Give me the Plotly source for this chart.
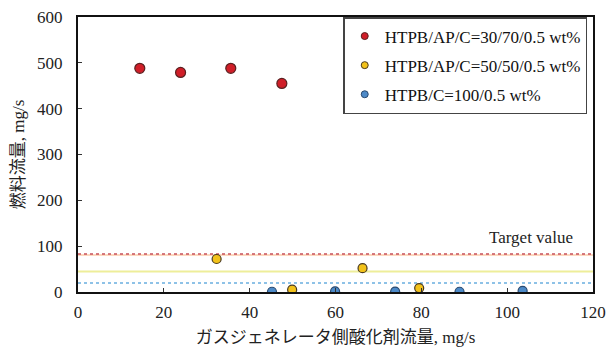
import plotly.graph_objects as go

# Fuel mass flow vs. gas-generator oxidizer flow
x_ap70 = [14.4, 23.9, 35.6, 47.5]
y_ap70 = [488, 479, 488, 455]

x_ap50 = [32.3, 49.9, 66.3, 79.5]
y_ap50 = [72, 5, 52, 8.5]

x_c100 = [45.2, 59.9, 73.9, 88.9, 103.6]
y_c100 = [0.5, 1.5, 1.0, 0.5, 2.5]

# Target fuel flow for each composition
target_ap70 = 83
target_ap50 = 45
target_c100 = 19.5

x_ticks = [0, 20, 40, 60, 80, 100, 120]
y_ticks = [0, 100, 200, 300, 400, 500, 600]

names = ["HTPB/AP/C=30/70/0.5 wt%", "HTPB/AP/C=50/50/0.5 wt%", "HTPB/C=100/0.5 wt%"]
fills = ["#d01e28", "#f2c21a", "#4d8ac8"]
edges = ["#5a2020", "#4a3a20", "#2a4a70"]

SERIF = "Liberation Serif, Noto Sans CJK JP"

fig = go.Figure()

# target lines (drawn first so markers sit above)
fig.add_trace(go.Scatter(x=[0, 120], y=[target_ap70 - 2.5] * 2, mode="lines",
                         line=dict(color="rgba(250,190,150,0.6)", width=2),
                         showlegend=False, hoverinfo="skip"))
fig.add_trace(go.Scatter(x=[0, 120], y=[target_ap70] * 2, mode="lines",
                         line=dict(color="#c8505a", width=1.5, dash="dot"),
                         showlegend=False, hoverinfo="skip"))
fig.add_trace(go.Scatter(x=[0, 120], y=[target_ap50] * 2, mode="lines",
                         line=dict(color="#eeee9a", width=2),
                         showlegend=False, hoverinfo="skip"))
fig.add_trace(go.Scatter(x=[0, 120], y=[target_c100] * 2, mode="lines",
                         line=dict(color="#6aaee0", width=1.5, dash="dot"),
                         showlegend=False, hoverinfo="skip"))

# data points
for xs, ys, fc, ec, sz, grp in [(x_ap70, y_ap70, fills[0], edges[0], 10, "a"),
                                (x_ap50, y_ap50, fills[1], edges[1], 9, "b"),
                                (x_c100, y_c100, fills[2], edges[2], 9, "c")]:
    fig.add_trace(go.Scatter(x=xs, y=ys, mode="markers", showlegend=False,
                             legendgroup=grp,
                             marker=dict(size=sz, color=fc, line=dict(color=ec, width=1.2))))

# legend entries with smaller symbols
for nm, fc, ec, grp in zip(names, fills, edges, ["a", "b", "c"]):
    fig.add_trace(go.Scatter(x=[None], y=[None], mode="markers", name=nm,
                             legendgroup=grp,
                             marker=dict(size=7, color=fc, line=dict(color=ec, width=1))))

fig.add_annotation(x=105.6, y=120, text="Target value", showarrow=False,
                   font=dict(family=SERIF, size=17, color="#222"))

axis_common = dict(showline=True, linecolor="#111", linewidth=2, mirror=True,
                   ticks="inside", ticklen=4, tickcolor="#333",
                   showgrid=False, zeroline=False,
                   tickfont=dict(family=SERIF, size=17, color="#222"))

fig.update_xaxes(range=[0, 120], tickvals=x_ticks, ticktext=[str(v) for v in x_ticks],
                 ticklabelstandoff=4,
                 title=dict(text="ガスジェネレータ側酸化剤流量, mg/s",
                            font=dict(family=SERIF, size=17, color="#222"), standoff=10),
                 **axis_common)
fig.update_yaxes(range=[0, 600], tickvals=y_ticks, ticktext=[str(v) for v in y_ticks],
                 ticklabelstandoff=10,
                 title=dict(text="燃料流量, mg/s",
                            font=dict(family=SERIF, size=17, color="#222"), standoff=8),
                 **axis_common)

fig.update_layout(
    width=609, height=357,
    margin=dict(l=78, r=16, t=17, b=65, autoexpand=False),
    paper_bgcolor="white", plot_bgcolor="white",
    legend=dict(x=0.515, y=1.0, xanchor="left", yanchor="top",
                bordercolor="#444", borderwidth=1.5, bgcolor="white",
                font=dict(family=SERIF, size=17, color="#111"),
                itemwidth=30, tracegroupgap=4),
)

fig.write_html("out.html")
